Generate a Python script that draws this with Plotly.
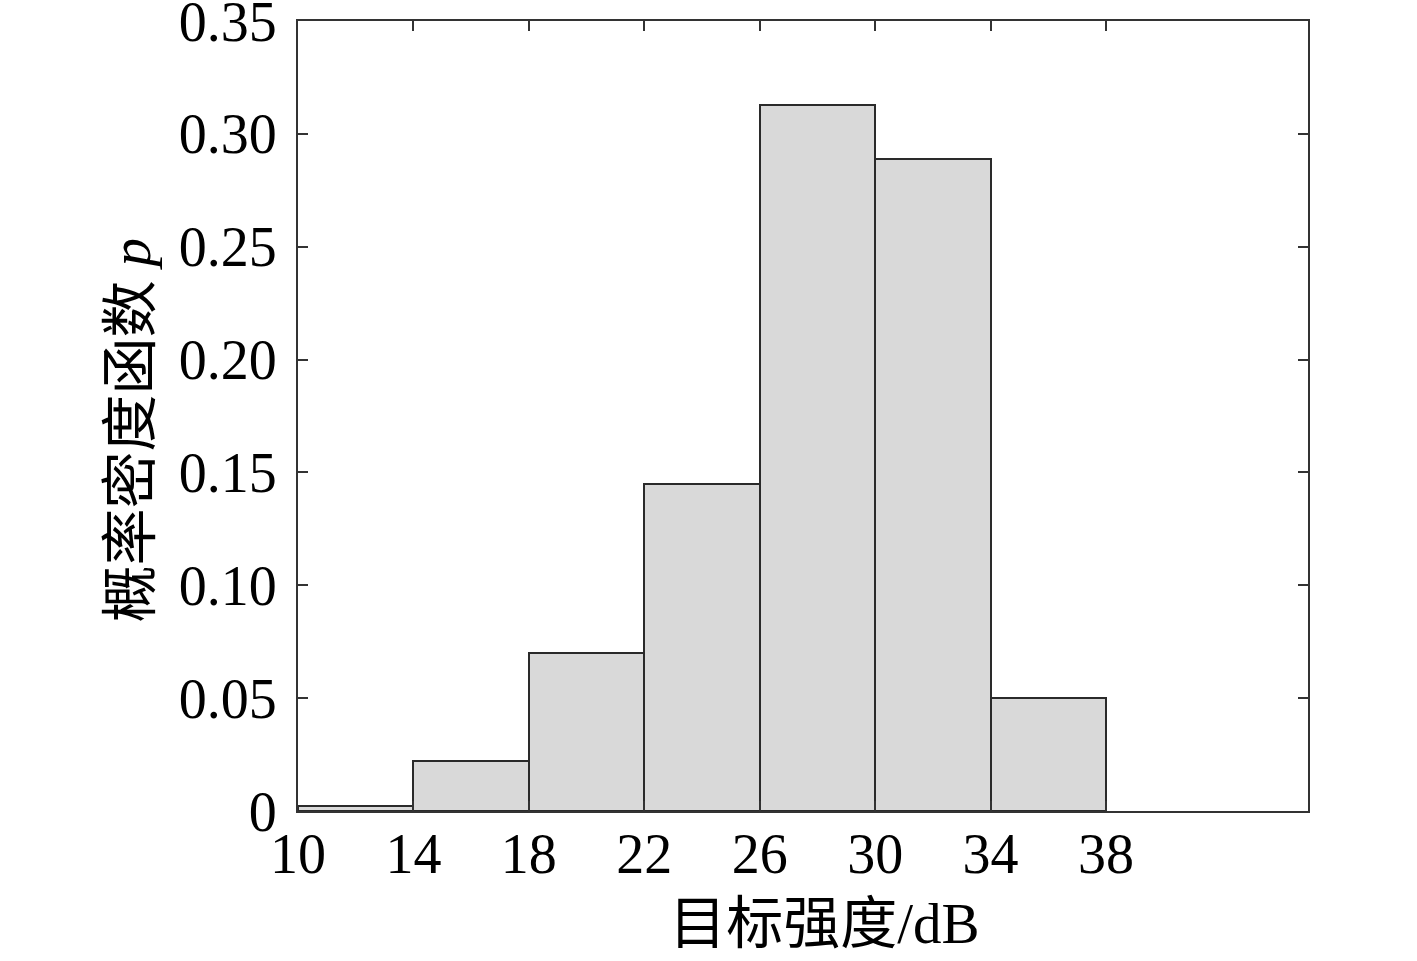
import plotly.graph_objects as go

# histogram bins (dB) and probability density
bin_edges = [10, 14, 18, 22, 26, 30, 34, 38]
density = [0.002, 0.022, 0.070, 0.145, 0.313, 0.289, 0.050]

x_ticks = [10, 14, 18, 22, 26, 30, 34, 38]
y_ticks = [0, 0.05, 0.10, 0.15, 0.20, 0.25, 0.30, 0.35]
y_ticktext = ["0", "0.05", "0.10", "0.15", "0.20", "0.25", "0.30", "0.35"]

centers = [(a + b) / 2 for a, b in zip(bin_edges[:-1], bin_edges[1:])]
widths = [b - a for a, b in zip(bin_edges[:-1], bin_edges[1:])]

FONT = "Liberation Serif, Times New Roman, Noto Sans CJK SC, serif"

fig = go.Figure()
fig.add_trace(go.Bar(
    x=centers,
    y=density,
    width=widths,
    marker=dict(color="#d9d9d9", line=dict(color="#2a2a2a", width=2)),
    hoverinfo="x+y",
))

axis_common = dict(
    showgrid=False,
    zeroline=False,
    showline=True,
    linecolor="#333333",
    linewidth=2,
    mirror="ticks",
    ticks="inside",
    ticklen=10,
    tickwidth=2,
    tickcolor="#333333",
    automargin=False,
    ticklabeloverflow="allow",
    tickfont=dict(family=FONT, size=56, color="black"),
)

# leading / trailing nbsp nudge the titles off-centre like in the original
fig.update_xaxes(
    range=[10, 45],
    tickvals=x_ticks,
    ticklabelstandoff=-7,
    title=dict(text="&nbsp;&nbsp;&nbsp;目标强度/dB", font=dict(family=FONT, size=57, color="black"), standoff=19),
    **axis_common,
)
fig.update_yaxes(
    range=[0, 0.35],
    tickvals=y_ticks,
    ticktext=y_ticktext,
    ticklabelstandoff=8,
    title=dict(text="概率密度函数 <i>p</i>&nbsp;&nbsp;", font=dict(family=FONT, size=57, color="black"), standoff=10),
    **axis_common,
)

fig.update_layout(
    width=1417,
    height=961,
    margin=dict(l=298, r=109, t=21, b=150),
    plot_bgcolor="white",
    paper_bgcolor="white",
    showlegend=False,
    bargap=0,
)

# drop the default 8px body margin so the figure sits at the window corner
fig.write_html("out.html", config={"displayModeBar": False},
               post_script="document.body.style.margin='0';")
